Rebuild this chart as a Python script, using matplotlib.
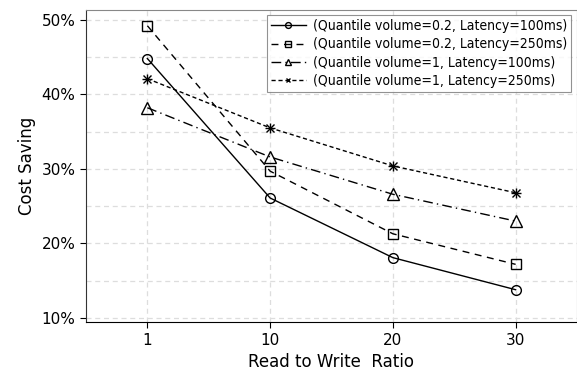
import matplotlib.pyplot as plt
from matplotlib.ticker import MultipleLocator, PercentFormatter
from matplotlib.font_manager import FontProperties

# Read/write ratios (categorical x axis)
ratios = ["1", "10", "20", "30"]

# Cost saving (%) for each configuration
q02_l100 = [44.8, 26.1, 18.1, 13.8]
q02_l250 = [49.2, 29.7, 21.3, 17.2]
q1_l100 = [38.2, 31.6, 26.6, 23.0]
q1_l250 = [42.1, 35.5, 30.4, 26.8]

labels = [
    "(Quantile volume=0.2, Latency=100ms)",
    "(Quantile volume=0.2, Latency=250ms)",
    "(Quantile volume=1, Latency=100ms)",
    "(Quantile volume=1, Latency=250ms)",
]

plt.rcParams['font.family'] = ['DejaVu Sans']

fig = plt.figure(figsize=(5.77, 3.72), dpi=100)
ax = fig.add_axes([0.149, 0.134, 0.851, 0.839])

x = range(len(ratios))
style = dict(color='black', linewidth=1.0, markersize=7, markerfacecolor='none',
             markeredgecolor='black', markeredgewidth=1.0)
ax.plot(x, q02_l100, linestyle='-', marker='o', label=labels[0], **style)
ax.plot(x, q02_l250, linestyle=(0, (5, 4)), marker='s', label=labels[1], **style)
ax.plot(x, q1_l100, linestyle=(0, (7, 3, 1, 3)), marker='^', label=labels[2], **dict(style, markersize=8))
ax.plot(x, q1_l250, linestyle=(0, (3, 2)), marker='x', label=labels[3], **dict(style, markersize=6))
# second stroke turns the x into a star
ax.plot(x, q1_l250, linestyle='none', marker='+', color='black', markersize=7, markeredgewidth=1.0)

ax.set_xticks(list(x))
ax.set_xticklabels(ratios)
ax.set_xlim(-0.5, 3.5)
ax.set_ylim(9.45, 51.3)
ax.yaxis.set_major_locator(MultipleLocator(10))
ax.yaxis.set_minor_locator(MultipleLocator(5))
ax.yaxis.set_major_formatter(PercentFormatter(decimals=0))
ax.tick_params(axis='both', labelsize=11, direction='out', length=4, width=0.8)
ax.tick_params(which='minor', left=False)

ax.grid(True, which='both', axis='y', linestyle=(0, (4, 3)), color='#dddddd', linewidth=0.9)
ax.grid(True, which='major', axis='x', linestyle=(0, (4, 3)), color='#dddddd', linewidth=0.9)
ax.set_axisbelow(True)

for side in ['top', 'right']:
    ax.spines[side].set_color('#888888')
ax.spines['left'].set_color('#333333')
ax.spines['bottom'].set_color('black')

ax.set_xlabel("Read to Write  Ratio", fontsize=12)
ax.set_ylabel("Cost Saving", fontsize=12)

legend_font = FontProperties(family='DejaVu Sans', stretch='condensed', size=10)
leg = ax.legend(loc='upper right', prop=legend_font, frameon=True, fancybox=False,
                edgecolor='#777777', markerscale=0.6, handlelength=2.5,
                handletextpad=0.5, borderpad=0.3, labelspacing=0.3,
                borderaxespad=0, bbox_to_anchor=(0.988, 0.984))
leg.get_frame().set_linewidth(0.8)

fig.savefig("out.png", dpi=100)
